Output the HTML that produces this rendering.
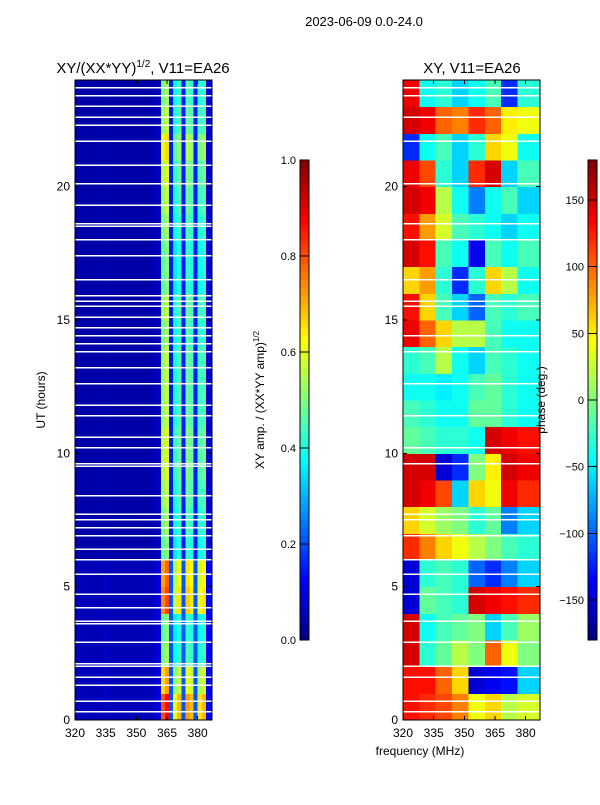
<!DOCTYPE html>
<html><head><meta charset="utf-8"><style>
body{margin:0;background:#fff;font-family:"Liberation Sans",sans-serif}
svg text{font-family:"Liberation Sans",sans-serif;fill:#000}
</style></head><body>
<svg id="fig" width="600" height="800" viewBox="0 0 600 800" xmlns="http://www.w3.org/2000/svg" shape-rendering="crispEdges">
<text x="364" y="26" font-size="13" text-anchor="middle">2023-06-09 0.0-24.0</text>
<text x="143" y="73" font-size="15" text-anchor="middle">XY/(XX*YY)<tspan font-size="10" dy="-6">1/2</tspan><tspan dy="6">, V11=EA26</tspan></text>
<text x="472" y="73" font-size="15" text-anchor="middle">XY, V11=EA26</text>
<g id="left"></g>
<g id="right"></g>
<g id="axes"></g>
<text transform="translate(45,400) rotate(-90)" font-size="12" text-anchor="middle">UT (hours)</text>
<text x="420" y="755" font-size="12" text-anchor="middle">frequency (MHz)</text>
<text transform="translate(264,400) rotate(-90)" font-size="12" text-anchor="middle">XY amp. / (XX*YY amp)<tspan font-size="8" dy="-5">1/2</tspan></text>
<text transform="translate(545,400) rotate(-90)" font-size="12" text-anchor="middle">phase (deg.)</text>
</svg>
<script>
// ---- data ----
const ampFreqBins = [320,322,324,326,328,330,332,334,336,338,340,342,344,346,348,350,352,354,356,358,360,362,364,366,368,370,372,374,376,378,380,382,384];
const ampFreqProfile = [0.04,0.04,0.04,0.04,0.04,0.04,0.04,0.05,0.04,0.04,0.04,0.04,0.04,0.04,0.04,0.04,0.04,0.04,0.04,0.05,0.07,0.55,0.6,0.15,0.42,0.48,0.15,0.5,0.48,0.15,0.45,0.48,0.08];
const ampHours = [0,1,2,3,4,5,6,7,8,9,10,11,12,13,14,15,16,17,18,19,20,21,22,23];
const ampHourFactor = [1.45,1.2,0.9,0.85,1.35,1.3,0.85,0.9,0.95,1.0,1.0,0.95,0.95,0.95,0.9,0.95,0.85,0.85,0.9,0.95,1.0,1.1,0.95,0.9];
const ampFlagHours = [0.3,0.7,1.3,1.6,2.0,2.1,2.9,3.6,3.7,4.2,4.7,5.45,6.0,6.4,6.9,7.2,7.5,7.7,8.4,9.5,9.6,10.2,10.6,11.4,11.8,12.6,13.2,13.8,14.1,14.4,14.7,15.1,15.5,15.7,15.9,16.5,17.4,18.0,18.5,18.6,19.3,20.1,20.8,21.7,22.3,22.6,23.0,23.4,23.7];
const phaseFreqBins = [320,328,336,344,352,360,368,376];
const phaseHours = [0,1,2,3,4,5,6,7,8,9,10,11,12,13,14,15,16,17,18,19,20,21,22,23];
const phaseValues = [
[130,120,110,90,40,60,20,30],
[130,130,100,60,-150,-140,-130,-60],
[150,-30,-10,20,0,100,40,0],
[150,-40,-20,-10,0,-60,-20,10],
[-150,-10,-20,-30,150,140,130,120],
[-150,-30,-20,-30,-100,-120,-90,-60],
[120,90,60,40,20,0,-20,-30],
[60,30,10,0,-30,-10,-90,-60],
[150,140,110,-60,60,40,140,120],
[150,150,-150,-120,0,50,150,140],
[-10,-20,-30,-30,-40,150,140,130],
[-20,-30,-40,-40,-10,-10,-30,-40],
[-40,-40,-50,-40,-20,-10,-30,-40],
[-30,-20,20,-40,-60,-20,-30,-40],
[140,100,60,20,20,-20,-40,-40],
[130,60,-20,-60,-100,-20,-30,-20],
[60,80,-30,-120,-30,60,20,-40],
[150,130,-20,-40,-140,-20,-40,-20],
[130,80,30,-20,-30,-40,-60,-40],
[150,140,20,-40,-90,-40,-20,-60],
[140,110,-30,-60,120,150,-60,-20],
[-120,-40,-20,-60,-30,60,40,-40],
[150,140,100,90,120,100,50,40],
[140,-40,-30,-60,-40,-20,-120,-30]];
const phaseFlagHours = [0.3,0.7,1.6,2.0,2.9,3.7,4.7,5.45,6.0,6.9,7.5,7.7,9.6,10.2,11.4,12.6,13.8,14.4,15.5,15.7,16.5,18.0,18.6,20.1,21.7,22.6,23.4,23.7];
const xTicks = [320,335,350,365,380];
const yTicks = [0,5,10,15,20];
const ampCbTicks = [0.0,0.2,0.4,0.6,0.8,1.0];
const phaseCbTicks = [-150,-100,-50,0,50,100,150];

// ---- helpers ----
const NS="http://www.w3.org/2000/svg";
function jet(v){v=Math.max(0,Math.min(1,v));
 const r=Math.max(0,Math.min(1,Math.min(4*v-1.5,-4*v+4.5)));
 const g=Math.max(0,Math.min(1,Math.min(4*v-0.5,-4*v+3.5)));
 const b=Math.max(0,Math.min(1,Math.min(4*v+0.5,-4*v+2.5)));
 return `rgb(${Math.round(r*255)},${Math.round(g*255)},${Math.round(b*255)})`;}
const Y0=720,Y1=80,F0=320,F1=387;
const yS=h=>Y0-(h/24)*(Y0-Y1);
function xS(x0){return f=>x0+(f-F0)/(F1-F0)*137;}
const xL=xS(75), xR=xS(403);
function rect(p,x,y,w,h,fill){const r=document.createElementNS(NS,'rect');
 r.setAttribute('x',x);r.setAttribute('y',y);r.setAttribute('width',w);r.setAttribute('height',h);r.setAttribute('fill',fill);p.appendChild(r);return r;}
function line(p,x1,y1,x2,y2){const l=document.createElementNS(NS,'line');
 l.setAttribute('x1',x1);l.setAttribute('y1',y1);l.setAttribute('x2',x2);l.setAttribute('y2',y2);l.setAttribute('stroke','#000');l.setAttribute('stroke-width',1);p.appendChild(l);}
function text(p,x,y,s,anchor){const t=document.createElementNS(NS,'text');
 t.setAttribute('x',x);t.setAttribute('y',y);t.setAttribute('font-size','12');t.setAttribute('text-anchor',anchor);t.textContent=s;p.appendChild(t);return t;}

// ---- left amplitude heatmap ----
const gl=document.getElementById('left');
ampHours.forEach((h,i)=>{ampFreqBins.forEach((f,j)=>{
 const f2=j+1<ampFreqBins.length?ampFreqBins[j+1]:F1;
 const v=Math.min(1,ampFreqProfile[j]*(ampFreqProfile[j]>0.2?ampHourFactor[i]:(i<6?1.4:1)));
 const r=rect(gl,xL(f),yS(h+1),xL(f2)-xL(f)+0.5,yS(h)-yS(h+1)+0.5,jet(v));
 
 
});});
ampFlagHours.forEach(h=>{const r=rect(gl,75,yS(h)-1,137,1.5,'#fff');
 
 });

// ---- right phase heatmap ----
const gr=document.getElementById('right');
phaseHours.forEach((h,i)=>{phaseFreqBins.forEach((f,j)=>{
 const f2=j+1<phaseFreqBins.length?phaseFreqBins[j+1]:F1;
 const v=(phaseValues[i][j]+180)/360;
 const r=rect(gr,xR(f),yS(h+1),xR(f2)-xR(f)+0.5,yS(h)-yS(h+1)+0.5,jet(v));
 
 
});});
phaseFlagHours.forEach(h=>{const r=rect(gr,403,yS(h)-1,137,1.5,'#fff');
 
 });

// ---- axes ----
const ga=document.getElementById('axes');
[[75,xL],[403,xR]].forEach(([x0,xs],k)=>{
 const fr=rect(ga,x0,80,137,640,'none');fr.setAttribute('stroke','#000');
 
 
 xTicks.forEach(t=>{const x=xs(t);line(ga,x,720,x,716);line(ga,x,80,x,84);
  const tt=text(ga,x,737,String(t),'middle');
  
  });
 yTicks.forEach(t=>{const y=yS(t);line(ga,x0,y,x0+4,y);line(ga,x0+137,y,x0+133,y);
  const tt=text(ga,x0-5,y+4,String(t),'end');
  
  });
});
function colorbar(x,ticks,vmin,vmax,fmt,name){
 for(let i=0;i<120;i++){rect(ga,x,640-(i+1)*4,9,4.3,jet((i+0.5)/120));}
 const fr=rect(ga,x,160,9,480,'none');fr.setAttribute('stroke','#000');
 
 
 ticks.forEach(t=>{const y=640-(t-vmin)/(vmax-vmin)*480;line(ga,x,y,x+9,y);
  const tt=text(ga,x-4,y+4,fmt(t),'end');tt.setAttribute('font-size','11');
  
  });
}
colorbar(300,ampCbTicks,0,1,t=>t.toFixed(1),'amp-colorbar');
colorbar(588,phaseCbTicks,-180,180,t=>String(t).replace('-','\u2212'),'phase-colorbar');
</script>
</body></html>
